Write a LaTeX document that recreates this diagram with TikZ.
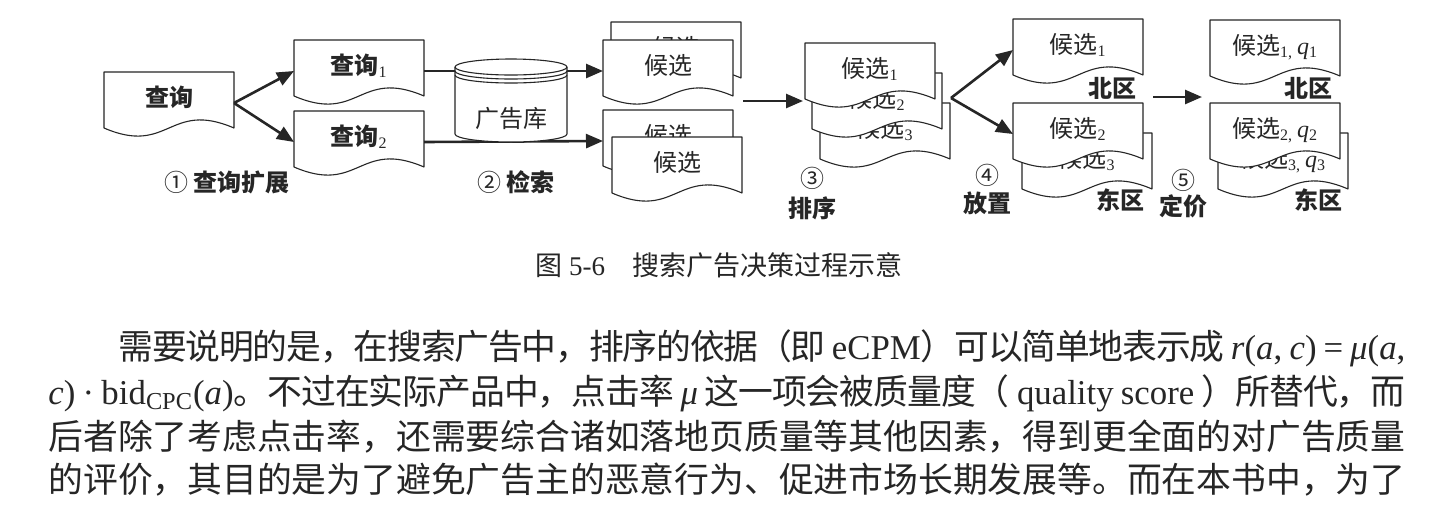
\documentclass[tikz,border=0pt]{standalone}
\usepackage{fontspec}
\setmainfont{Noto Sans CJK SC}
\newfontfamily\latfont{Liberation Serif}
\newcommand\tms[1]{{\latfont #1}}
\usetikzlibrary{arrows.meta}
\definecolor{ink}{HTML}{262626}

\XeTeXinterchartokenstate=1
\newXeTeXintercharclass\cjkcls
\newcount\cjkchar
\newcommand\setcjkrange[2]{\cjkchar=#1
  \loop\XeTeXcharclass\cjkchar=\cjkcls
  \ifnum\cjkchar<#2 \advance\cjkchar by 1 \repeat}
\setcjkrange{"3000}{"303F}
\setcjkrange{"4E00}{"9FFF}
\setcjkrange{"FF00}{"FFEF}
\XeTeXinterchartoks\cjkcls\cjkcls={\hskip 0pt plus 2pt minus 1pt\relax}

\begin{document}
\begin{tikzpicture}[x=0.5pt,y=-0.5pt,ink,line join=round,
    docpage/.style={draw=ink,fill=white,line width=0.55pt},
    doctext/.style={anchor=base,inner sep=0pt,font=\fontsize{12pt}{14pt}\selectfont},
    steplabel/.style={anchor=base,inner sep=0pt,font=\fontsize{12pt}{14pt}\selectfont\bfseries},
    flow/.style={draw=ink,line width=1.3pt,-{Triangle[length=8.5pt,width=7pt]}},
    bodyline/.style={anchor=base west,inner sep=0pt,font=\fontsize{17.4pt}{22pt}\selectfont}]
    \fill[white] (0,0) rectangle (1430,516);
    \useasboundingbox (0,0) rectangle (1430,516);
    \foreach \x/\y/\n/\t in {104/72/q0/{\textbf{查询}},
        294/40/q1/{\textbf{查询}\tms{\textsubscript{1}}},
        294/111/q2/{\textbf{查询}\tms{\textsubscript{2}}},
        611/22/c0/{候选}, 603/40/c1/{候选},
        603/110/c3/{候选}, 612/137/c2/{候选},
        820/103/r3/{候选\tms{\textsubscript{3}}},
        812/73/r2/{候选\tms{\textsubscript{2}}},
        805/43/r1/{候选\tms{\textsubscript{1}}},
        1013/19/pn/{候选\tms{\textsubscript{1}}},
        1022/133/pe3/{候选\tms{\textsubscript{3}}},
        1013/103/pe2/{候选\tms{\textsubscript{2}}},
        1210/20/sn/{候选\tms{\textsubscript{1,}\,\textit{q}\textsubscript{1}}},
        1218/133/se3/{候选\tms{\textsubscript{3,}\,\textit{q}\textsubscript{3}}},
        1210/103/se2/{候选\tms{\textsubscript{2,}\,\textit{q}\textsubscript{2}}}} {
      \draw[docpage] (\x,\y) -- (\x+130,\y) -- (\x+130,\y+56)
        .. controls (\x+65,\y+28) and (\x+65,\y+84) .. (\x,\y+56) -- cycle;
      \node[doctext] (\n) at (\x+65,\y+34) {\t};
      \coordinate (\n-w) at (\x,\y+31);
      \coordinate (\n-e) at (\x+130,\y+31);
    }
    \draw[flow] (q0-e) -- (q1-w);
    \draw[flow] (q0-e) -- (q2-w);
    \draw[flow] (q1-e) -- (c1-w);
    \draw[flow] (q2-e) -- (c3-w);
    \filldraw[docpage] (455,67) -- (455,134) arc[start angle=180,end angle=0,x radius=56,y radius=8]
      -- (567,67) arc[start angle=0,end angle=-180,x radius=56,y radius=8] -- cycle;
    \foreach \r in {67,71,75}
      \draw[ink,line width=0.55pt] (455,\r) arc[start angle=180,end angle=0,x radius=56,y radius=8];
    \node[doctext] (adbase) at (511,127) {广告库};
    \coordinate (c-out) at (743,101);
    \coordinate (r-in) at (803,101);
    \draw[flow] (c-out) -- (r-in);
    \coordinate (split) at (951,98);
    \draw[flow] (split) -- (pn-w);
    \draw[flow] (split) -- (pe2-w);
    \coordinate (p-out) at (1153,97);
    \coordinate (s-in) at (1202,97);
    \draw[flow] (p-out) -- (s-in);
    \node[steplabel] (expand) at (227,191) {{\mdseries ①} 查询扩展};
    \node[steplabel] (retrieve) at (516,191) {{\mdseries ②} 检索};
    \node[doctext] (n3) at (812,187) {③};
    \node[steplabel] (sorting) at (812,217) {排序};
    \node[doctext] (n4) at (987,184) {④};
    \node[steplabel] (placing) at (987,212) {放置};
    \node[doctext] (n5) at (1183,189) {⑤};
    \node[steplabel] (pricing) at (1183,215) {定价};
    \node[steplabel] (north1) at (1112,97) {北区};
    \node[steplabel] (east1) at (1120,209) {东区};
    \node[steplabel] (north2) at (1308,97) {北区};
    \node[steplabel] (east2) at (1318,209) {东区};
    \node[anchor=base,inner sep=0pt,font=\fontsize{13.5pt}{16pt}\selectfont] (caption) at (719,275)
      {图 \tms{5-6}\hspace{1em}搜索广告决策过程示意};
    \node[bodyline] (line1) at (48,359) {\hbox to 678.5pt{\hspace*{35pt}需要说明的是，在搜索广告中，排序的依据（即 \tms{eCPM}）可以简单地表示成 \tms{\textit{r}(\textit{a}, \textit{c}) = \textit{μ}(\textit{a},}}};
    \node[bodyline] (line2) at (48,404) {\hbox to 678.5pt{\tms{\textit{c}) · bid\textsubscript{CPC}(\textit{a})}。不过在实际产品中，点击率 \tms{\textit{μ}} 这一项会被质量度（\tms{ quality score }）所替代，而}};
    \node[bodyline] (line3) at (48,449) {\hbox to 678.5pt{后者除了考虑点击率，还需要综合诸如落地页质量等其他因素，得到更全面的对广告质量}};
    \node[bodyline] (line4) at (48,492) {\hbox to 678.5pt{的评价，其目的是为了避免广告主的恶意行为、促进市场长期发展等。而在本书中，为了}};
  \end{tikzpicture}
\end{document}
